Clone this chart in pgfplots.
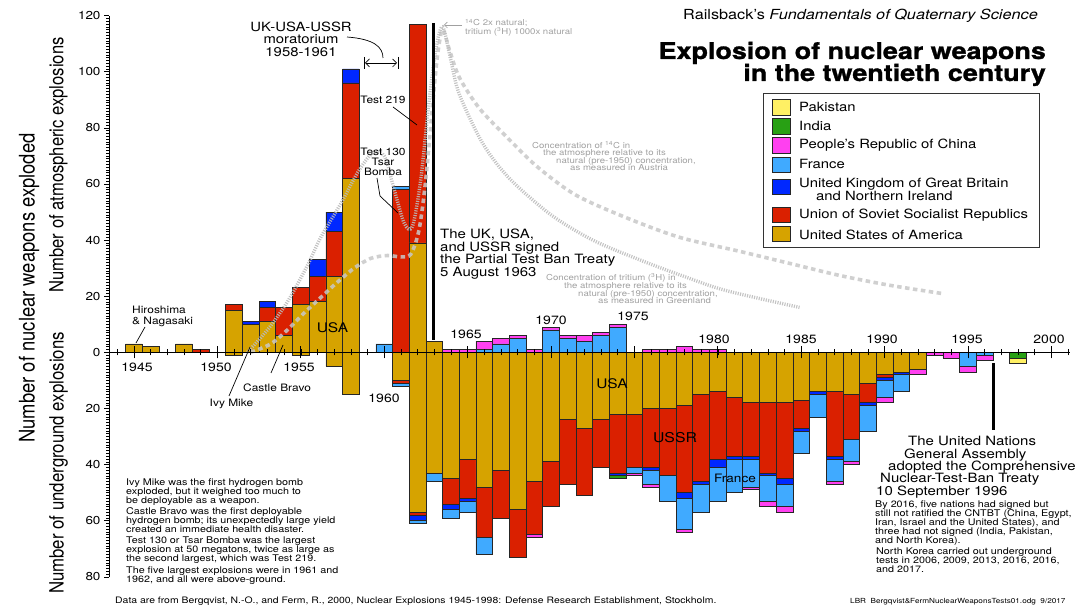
\documentclass[border=0pt]{standalone}
\usepackage{pgfplots}
\pgfplotsset{compat=1.18}
\usepackage{pgfplotstable}
\usepackage{graphicx}
\usepackage{fontspec}
\setmainfont{TeX Gyre Heros}[FakeStretch=1.17]
\newfontfamily\rotfont{TeX Gyre Heros}
\newfontfamily\titlefont{TeX Gyre Heros}[FakeStretch=1.17, BoldFeatures={FakeBold=1.2}]
\usetikzlibrary{arrows.meta}

\definecolor{cUSA}{RGB}{214,163,0}
\definecolor{cUSSR}{RGB}{218,32,0}
\definecolor{cUK}{RGB}{0,40,255}
\definecolor{cFRA}{RGB}{64,170,255}
\definecolor{cCHN}{RGB}{255,64,240}
\definecolor{cIND}{RGB}{40,160,20}
\definecolor{cPAK}{RGB}{255,240,100}
\definecolor{cCurve}{RGB}{200,200,200}
\definecolor{cCurveT}{RGB}{188,188,188}
\definecolor{cNote}{RGB}{160,160,160}

% atmospheric explosions
\pgfplotstableread{
year USA USSR UK FRA CHN
1945 3 0 0 0 0
1946 2 0 0 0 0
1947 0 0 0 0 0
1948 3 0 0 0 0
1949 0 1 0 0 0
1950 0 0 0 0 0
1951 15 2 0 0 0
1952 10 0 1 0 0
1953 11 5 2 0 0
1954 6 10 0 0 0
1955 17 6 0 0 0
1956 18 9 6 0 0
1957 27 16 7 0 0
1958 62 34 5 0 0
1959 0 0 0 0 0
1960 0 0 0 3 0
1961 0 58 0 1 0
1962 39 78 0 0 0
1963 4 0 0 0 0
1964 0 0 0 0 1
1965 0 0 0 0 1
1966 0 0 0 1 3
1967 0 0 0 3 2
1968 0 0 0 5 1
1969 0 0 0 0 1
1970 0 0 0 8 1
1971 0 0 0 5 1
1972 0 0 0 4 2
1973 0 0 0 6 1
1974 0 0 0 9 1
1975 0 0 0 0 0
1976 0 0 0 0 1
1977 0 0 0 0 1
1978 0 0 0 0 2
1979 0 0 0 0 1
1980 0 0 0 0 1
}\atmos

% underground explosions (plotted downward)
\pgfplotstableread{
year USA USSR UK FRA CHN IND PAK
1951 -1 0 0 0 0 0 0
1955 -1 0 0 0 0 0 0
1957 -5 0 0 0 0 0 0
1958 -15 0 0 0 0 0 0
1961 -10 -1 0 -1 0 0 0
1962 -57 -1 -2 -1 0 0 0
1963 -43 0 0 -3 0 0 0
1964 -45 -9 -2 -3 0 0 0
1965 -38 -14 -1 -4 0 0 0
1966 -48 -18 0 -6 0 0 0
1967 -42 -17 0 0 0 0 0
1968 -56 -17 0 0 0 0 0
1969 -46 -19 0 0 -1 0 0
1970 -39 -16 0 0 0 0 0
1971 -24 -23 0 0 0 0 0
1972 -27 -24 0 0 0 0 0
1973 -24 -17 0 0 0 0 0
1974 -22 -21 -1 0 0 -1 0
1975 -22 -19 0 -2 -1 0 0
1976 -20 -21 -1 -5 -1 0 0
1977 -20 -24 0 -9 0 0 0
1978 -19 -31 -2 -11 -1 0 0
1979 -15 -31 -1 -10 0 0 0
1980 -14 -24 -3 -12 0 0 0
1981 -16 -21 -1 -12 0 0 0
1982 -18 -19 -1 -10 -1 0 0
1983 -18 -25 -1 -9 -2 0 0
1984 -18 -27 -2 -8 -2 0 0
1985 -17 -10 -1 -8 0 0 0
1986 -14 0 -1 -8 0 0 0
1987 -14 -23 -1 -8 -1 0 0
1988 -15 -16 0 -8 -1 0 0
1989 -11 -7 -1 -9 0 0 0
1990 -8 -1 -1 -6 -2 0 0
1991 -7 0 -1 -6 0 0 0
1992 -6 0 0 0 -2 0 0
1993 0 0 0 0 -1 0 0
1994 0 0 0 0 -2 0 0
1995 0 0 0 -5 -2 0 0
1996 0 0 0 -1 -2 0 0
1998 0 0 0 0 0 -2 -2
}\under

% 14C in atmosphere (Austria), scaled to the left axis
\pgfplotstableread{
year v
1952.0 0
1953.2 3
1954.2 8
1955.2 14
1956.1 19
1957.1 24.5
1958.2 30
1959.2 33.5
1960.2 34.5
1961.0 34
1961.6 35
1962.1 44
1962.5 62
1962.9 88
1963.2 106
1963.5 115
1963.9 108
1964.5 98
1965.7 87
1967.3 77
1969.2 66
1971.5 56
1974.5 48
1977.7 41
1981.3 36
1984.3 31.7
1987.3 27.4
1990.3 23.9
1993.4 21
}\carbon

% tritium in atmosphere (Greenland), scaled to the left axis
\pgfplotstableread{
year v
1951.8 0
1953.0 8
1954.2 18
1955.4 31
1956.2 41
1957.4 53
1958.4 64
1959.3 71
1960.0 70
1960.6 58
1961.2 46
1961.7 45
1962.2 62
1962.7 90
1963.1 108
1963.5 116
1964.0 104
1964.5 92
1965.9 74.5
1967.5 62
1970.0 49
1972.5 40
1975.3 33
1978.0 27
1980.5 22
1984.9 16
}\tritium

\pgfplotsset{base/.style={scale only axis, width=962.4pt, height=561.2pt,
  xmin=1943.5, xmax=2001.2, ymin=-80, ymax=120,
  at={(109pt,28.2pt)}, anchor=south west}}

\begin{document}
\begin{tikzpicture}
\path[use as bounding box] (0,0) rectangle (1080pt,605pt);

% ---------- atmospheric bars ----------
\begin{axis}[base, hide axis, ybar stacked, bar width=16.68pt]
\addplot[fill=cUSA, draw=black!85, line width=0.65pt] table[x=year,y=USA]{\atmos};
\addplot[fill=cUSSR, draw=black!85, line width=0.65pt] table[x=year,y=USSR]{\atmos};
\addplot[fill=cUK, draw=black!85, line width=0.65pt] table[x=year,y=UK]{\atmos};
\addplot[fill=cFRA, draw=black!85, line width=0.65pt] table[x=year,y=FRA]{\atmos};
\addplot[fill=cCHN, draw=black!85, line width=0.65pt] table[x=year,y=CHN]{\atmos};
\end{axis}

% ---------- underground bars ----------
\begin{axis}[base, hide axis, ybar stacked, bar width=16.68pt]
\addplot[fill=cUSA, draw=black!85, line width=0.65pt] table[x=year,y=USA]{\under};
\addplot[fill=cUSSR, draw=black!85, line width=0.65pt] table[x=year,y=USSR]{\under};
\addplot[fill=cUK, draw=black!85, line width=0.65pt] table[x=year,y=UK]{\under};
\addplot[fill=cFRA, draw=black!85, line width=0.65pt] table[x=year,y=FRA]{\under};
\addplot[fill=cCHN, draw=black!85, line width=0.65pt] table[x=year,y=CHN]{\under};
\addplot[fill=cIND, draw=black!85, line width=0.65pt] table[x=year,y=IND]{\under};
\addplot[fill=cPAK, draw=black!85, line width=0.65pt] table[x=year,y=PAK]{\under};
\end{axis}

% ---------- curves, y axis, zero line ----------
\begin{axis}[base, clip=false,
  axis x line=none, axis y line*=left,
  y axis line style={black, line width=0.8pt},
  ytick={-80,-60,...,120},
  yticklabels={80,60,40,20,0,20,40,60,80,100,120},
  minor y tick num=19,
  tick align=outside,
  major tick length=5pt, minor tick length=3pt,
  tick style={black, line width=0.5pt},
  yticklabel style={font=\fontsize{11.5}{12}\selectfont},
  /pgf/number format/assume math mode=true]
\addplot[no markers, smooth, tension=0.5, color=cCurve, line width=3.6pt,
  dash pattern=on 4.5pt off 3.5pt, opacity=0.85] table[x=year,y=v]{\carbon};
\addplot[no markers, smooth, tension=0.5, color=cCurveT, line width=3.4pt,
  dash pattern=on 1.1pt off 1.3pt, opacity=0.9] table[x=year,y=v]{\tritium};
\draw[black, line width=0.8pt] (axis cs:1943.5,0) -- (axis cs:2001.1,0);
\pgfplotsinvokeforeach{1944,...,2001}{
  \draw[black, line width=0.6pt] (axis cs:#1,0) ++(0pt,-3pt) -- ++(0pt,6.5pt);}
\pgfplotsinvokeforeach{1945,1950,...,2000}{
  \draw[black, line width=0.8pt] (axis cs:#1,0) ++(0pt,-6pt) -- ++(0pt,12pt);}
\end{axis}

% ---------- annotations (pixel coordinates, y downwards) ----------
\begin{scope}[x=1pt, y=-1pt, yshift=605pt]
% treaty lines
\draw[black, line width=3pt] (433,23) -- (433,340);
\draw[black, line width=3pt] (993,363) -- (993,430);

% axis titles
\node[rotate=90] at (29,288) {\rotfont\fontsize{18.4}{20}\selectfont\scalebox{1}[1.17]{Number of nuclear weapons exploded}};
\node[rotate=90] at (58.5,165) {\rotfont\fontsize{16.6}{18}\selectfont\scalebox{1}[1.17]{Number of atmospheric explosions}};
\node[rotate=90] at (58.5,463) {\rotfont\fontsize{16.8}{18}\selectfont\scalebox{1}[1.17]{Number of underground explosions}};

% year labels
\begin{scope}[every node/.style={font=\fontsize{12}{12}\selectfont, inner sep=0pt}]
\node at (137,367) {1945};
\node at (216,367) {1950};
\node at (299,367) {1955};
\node at (384,398) {1960};
\node at (466,334) {1965};
\node at (551,320) {1970};
\node at (633,316) {1975};
\node at (714,339) {1980};
\node at (801,339) {1985};
\node at (882,339) {1990};
\node at (967,339) {1995};
\node at (1049,339) {2000};
\end{scope}

% header
\node[anchor=base east, inner sep=0pt, font=\fontsize{13.9}{15}\selectfont] at (1038,20) {Railsback's \textit{Fundamentals of Quaternary Science}};
\node[anchor=base east, inner sep=0pt, font=\titlefont\fontsize{23}{24}\selectfont\bfseries] at (1046,59) {Explosion of nuclear weapons};
\node[anchor=base east, inner sep=0pt, font=\titlefont\fontsize{23}{24}\selectfont\bfseries] at (1046,81) {in the twentieth century};

% legend
\draw[black!80, line width=0.8pt, fill=white] (763,93) rectangle (1039,247);
\begin{scope}[every node/.style={font=\fontsize{12.7}{13}\selectfont, inner sep=0pt, anchor=west}]
\filldraw[fill=cPAK, draw=black!85, line width=0.6pt] (772,99) rectangle (790,115);
\node at (799,107) {Pakistan};
\filldraw[fill=cIND, draw=black!85, line width=0.6pt] (772,118) rectangle (790,134);
\node at (799,126) {India};
\filldraw[fill=cCHN, draw=black!85, line width=0.6pt] (772,137) rectangle (790,153);
\node at (799,145) {People's Republic of China};
\filldraw[fill=cFRA, draw=black!85, line width=0.6pt] (772,157) rectangle (790,172);
\node at (799,164) {France};
\filldraw[fill=cUK, draw=black!85, line width=0.6pt] (772,179) rectangle (790,194);
\node at (799,184) {United Kingdom of Great Britain};
\node at (816,196) {and Northern Ireland};
\filldraw[fill=cUSSR, draw=black!85, line width=0.6pt] (772,207) rectangle (790,222);
\node at (799,215) {Union of Soviet Socialist Republics};
\filldraw[fill=cUSA, draw=black!85, line width=0.6pt] (772,226) rectangle (790,241);
\node at (799,235) {United States of America};
\end{scope}

% moratorium
\begin{scope}[every node/.style={font=\fontsize{12.7}{12.5}\selectfont, inner sep=0pt, anchor=base}]
\node at (301,31.3) {UK-USA-USSR};
\node at (301,43.8) {moratorium};
\node at (301,56.3) {1958-1961};
\end{scope}
\draw[black, line width=0.7pt] (347,37) .. controls (374,39) and (383,47) .. (383,58);
\draw[black, line width=0.7pt, {Straight Barb[length=4pt]}-{Straight Barb[length=4pt]}] (365,63) -- (397,63);
\draw[black, line width=0.7pt] (364,57) -- (364,69);
\draw[black, line width=0.7pt] (398,57) -- (398,69);

% test annotations
\begin{scope}[every node/.style={font=\fontsize{10.2}{10}\selectfont, inner sep=0pt, anchor=base}]
\node at (383,103.6) {Test 219};
\node at (383,155.3) {Test 130};
\node at (383,165.3) {Tsar};
\node at (383,175.3) {Bomba};
\node[anchor=base west] at (132,313.8) {Hiroshima};
\node[anchor=base west] at (132,324.8) {\& Nagasaki};
\node[anchor=base west] at (243,391.6) {Castle Bravo};
\node at (231.5,406.6) {Ivy Mike};
\end{scope}
\draw[black, line width=0.7pt] (393,107) -- (417,125);
\draw[black, line width=0.7pt] (377,178) -- (380,196) -- (398,213);
\draw[black, line width=0.7pt] (145,327) -- (136,343);
\draw[black, line width=0.7pt] (250,347) -- (229,396);
\draw[black, line width=0.7pt] (283,345) -- (271,373);

% country labels on bars
\node[font=\fontsize{13.2}{13}\selectfont, inner sep=0pt] at (332.5,328) {USA};
\node[font=\fontsize{13.2}{13}\selectfont, inner sep=0pt] at (612,384) {USA};
\node[font=\fontsize{13.5}{13}\selectfont, inner sep=0pt] at (675,438) {USSR};
\node[font=\fontsize{11.6}{12}\selectfont, inner sep=0pt] at (735,478) {France};

% Partial Test Ban Treaty
\begin{scope}[every node/.style={font=\fontsize{12.8}{12.5}\selectfont, inner sep=0pt, anchor=base west}]
\node at (440,238.6) {The UK, USA,};
\node at (440,251.1) {and USSR signed};
\node at (440,263.6) {the Partial Test Ban Treaty};
\node at (440,276.1) {5 August 1963};
% CTBT
\node at (908,445.6) {The United Nations};
\node at (904,458.6) {General Assembly};
\node at (888,470.6) {adopted the Comprehensive};
\node at (880,482.6) {Nuclear-Test-Ban Treaty};
\node at (876,495.6) {10 September 1996};
\end{scope}

% curve notes
\begin{scope}[every node/.style={font=\fontsize{8.2}{8}\selectfont, inner sep=0pt, anchor=west, text=cNote}]
\node at (465,23) {\textsuperscript{14}C 2x natural;};
\node at (465,32) {tritium (\textsuperscript{3}H) 1000x natural};
\node at (532,145) {Concentration of \textsuperscript{14}C in};
\node at (543,153) {the atmosphere relative to its};
\node at (556,161) {natural (pre-1950) concentration,};
\node at (570,168) {as measured in Austria};
\node at (546,278) {Concentration of tritium (\textsuperscript{3}H) in};
\node at (564,286) {the atmosphere relative to its};
\node at (578,294) {natural (pre-1950) concentration,};
\node at (598,301) {as measured in Greenland};
\end{scope}
\draw[cNote, line width=0.6pt, -{Straight Barb[length=3pt]}] (462,25) -- (444,25);

% notes bottom left
\begin{scope}[every node/.style={font=\fontsize{9.2}{9}\selectfont, inner sep=0pt, anchor=base west}]
\node at (126,485.3) {Ivy Mike was the first hydrogen bomb};
\node at (126,494.3) {exploded, but it weighed too much to};
\node at (126,503.3) {be deployable as a weapon.};
\node at (126,514.3) {Castle Bravo was the first deployable};
\node at (126,523.3) {hydrogen bomb; its unexpectedly large yield};
\node at (126,532.3) {created an immediate health disaster.};
\node at (126,543.3) {Test 130 or Tsar Bomba was the largest};
\node at (126,552.3) {explosion at 50 megatons, twice as large as};
\node at (126,561.3) {the second largest, which was Test 219.};
\node at (126,573.3) {The five largest explosions were in 1961 and};
\node at (126,582.3) {1962, and all were above-ground.};
% notes bottom right
\node at (875,507.3) {By 2016, five nations had signed but};
\node at (875,516.3) {still not ratified the CNTBT (China, Egypt,};
\node at (875,525.3) {Iran, Israel and the United States), and};
\node at (875,534.3) {three had not signed (India, Pakistan,};
\node at (875,543.3) {and North Korea).};
\node at (876,554.3) {North Korea carried out underground};
\node at (876,563.3) {tests in 2006, 2009, 2013, 2016, 2016,};
\node at (876,572.3) {and 2017.};
\end{scope}

% sources
\node[anchor=base west, inner sep=0pt, font=\fontsize{8.9}{9}\selectfont] at (115,603.3) {Data are from Bergqvist, N.-O., and Ferm, R., 2000, Nuclear Explosions 1945-1998: Defense Research Establishment, Stockholm.};
\node[anchor=base west, inner sep=0pt, font=\fontsize{7}{7}\selectfont] at (850,603.3) {LBR\ \ Bergqvist\&FermNuclearWeaponsTests01.odg\ \ 9/2017};
\end{scope}
\end{tikzpicture}
\end{document}
